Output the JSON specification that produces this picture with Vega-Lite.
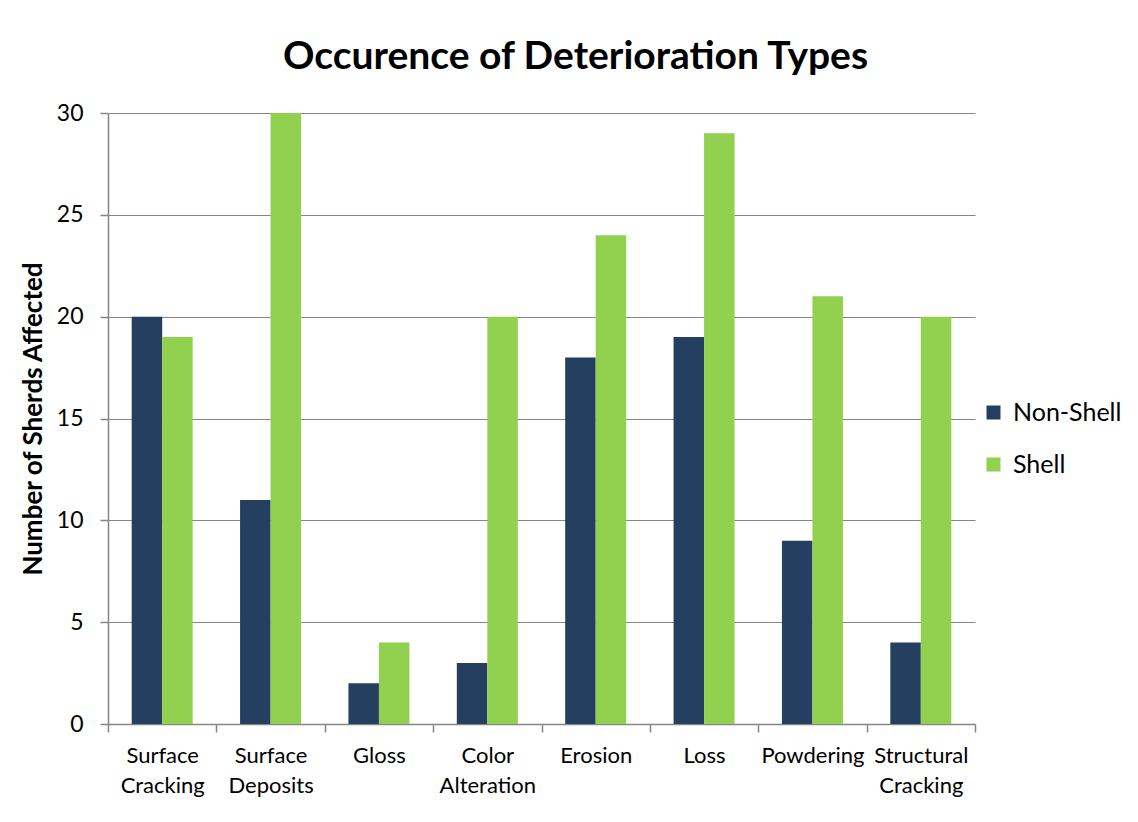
{
  "$schema": "https://vega.github.io/schema/vega-lite/v6.json",
  "autosize": {"type": "none"},
  "padding": {"left": 108, "top": 113, "right": 163, "bottom": 98},
  "width": 867,
  "height": 611,
  "background": "white",
  "title": {
    "text": "Occurence of Deterioration Types",
    "font": "Lato",
    "fontSize": 39,
    "fontWeight": "bold",
    "color": "#000000",
    "anchor": "middle",
    "dx": 34,
    "offset": 25
  },
  "data": {
    "values": [
      {"type": "Surface Cracking", "group": "Non-Shell", "count": 20},
      {"type": "Surface Cracking", "group": "Shell", "count": 19},
      {"type": "Surface Deposits", "group": "Non-Shell", "count": 11},
      {"type": "Surface Deposits", "group": "Shell", "count": 30},
      {"type": "Gloss", "group": "Non-Shell", "count": 2},
      {"type": "Gloss", "group": "Shell", "count": 4},
      {"type": "Color Alteration", "group": "Non-Shell", "count": 3},
      {"type": "Color Alteration", "group": "Shell", "count": 20},
      {"type": "Erosion", "group": "Non-Shell", "count": 18},
      {"type": "Erosion", "group": "Shell", "count": 24},
      {"type": "Loss", "group": "Non-Shell", "count": 19},
      {"type": "Loss", "group": "Shell", "count": 29},
      {"type": "Powdering", "group": "Non-Shell", "count": 9},
      {"type": "Powdering", "group": "Shell", "count": 21},
      {"type": "Structural Cracking", "group": "Non-Shell", "count": 4},
      {"type": "Structural Cracking", "group": "Shell", "count": 20}
    ]
  },
  "mark": {"type": "bar"},
  "encoding": {
    "x": {
      "field": "type",
      "type": "nominal",
      "sort": null,
      "scale": {"paddingInner": 0, "paddingOuter": 0},
      "axis": {
        "title": null,
        "labelAngle": 0,
        "labelExpr": "split(datum.label, ' ')",
        "labelFont": "Lato",
        "labelFontSize": 22,
        "labelColor": "#000000",
        "labelLineHeight": 30,
        "labelPadding": 13,
        "tickBand": "extent",
        "tickSize": 8,
        "tickColor": "#868686",
        "tickWidth": 1.5,
        "domainColor": "#868686",
        "domainWidth": 1.5,
        "grid": false
      }
    },
    "xOffset": {
      "field": "group",
      "type": "nominal",
      "scale": {"paddingInner": 0, "paddingOuter": 0.777}
    },
    "y": {
      "field": "count",
      "type": "quantitative",
      "scale": {"domain": [0, 30], "nice": false},
      "axis": {
        "title": "Number of Sherds Affected",
        "titleFont": "Lato",
        "titleFontSize": 26,
        "titleFontWeight": "bold",
        "titleColor": "#000000",
        "titleAngle": -90,
        "titleAlign": "center",
        "titleBaseline": "middle",
        "titleX": -75,
        "titleY": 305.5,
        "values": [0, 5, 10, 15, 20, 25, 30],
        "labelFont": "Lato",
        "labelFontSize": 23,
        "labelColor": "#000000",
        "labelPadding": 17,
        "tickSize": 8,
        "tickColor": "#868686",
        "tickWidth": 1.5,
        "domainColor": "#868686",
        "domainWidth": 1.5,
        "grid": true,
        "gridColor": "#868686",
        "gridWidth": 1.2
      }
    },
    "color": {
      "field": "group",
      "type": "nominal",
      "scale": {"domain": ["Non-Shell", "Shell"], "range": ["#243F60", "#92D050"]},
      "legend": {
        "title": null,
        "orient": "none",
        "legendX": 873,
        "legendY": 287,
        "symbolType": "square",
        "symbolSize": 196,
        "symbolStrokeWidth": 0,
        "labelFont": "Lato",
        "labelFontSize": 25,
        "labelColor": "#000000",
        "labelOffset": 7,
        "rowPadding": 26
      }
    }
  },
  "config": {"view": {"stroke": null}}
}
